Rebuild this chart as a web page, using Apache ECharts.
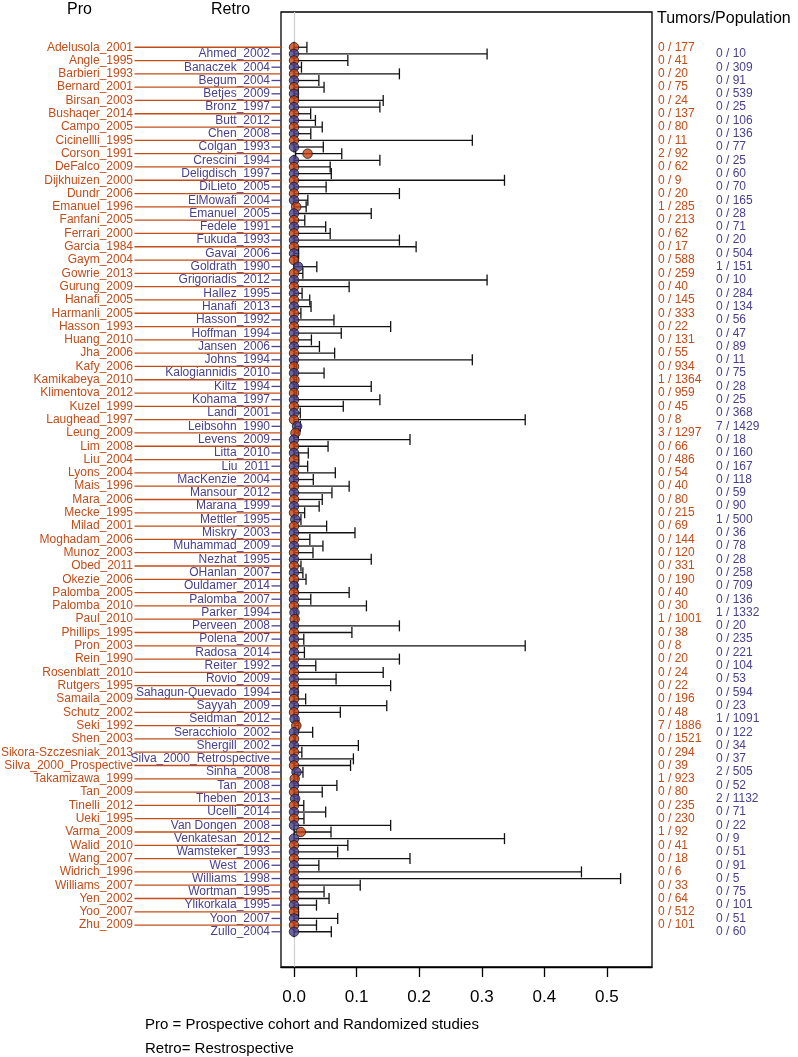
<!DOCTYPE html>
<html><head><meta charset="utf-8">
<script src="https://cdn.jsdelivr.net/npm/echarts@6/dist/echarts.min.js"></script>
<style>html,body{margin:0;padding:0;background:#fff}#c{width:798px;height:1057px}</style>
</head><body><div id="c"></div>
<script>
// ---------- data ----------
const proStudies = ['Adelusola_2001','Angle_1995','Barbieri_1993','Bernard_2001','Birsan_2003','Bushaqer_2014','Campo_2005','Cicinellli_1995','Corson_1991','DeFalco_2009',
'Dijkhuizen_2000','Dundr_2006','Emanuel_1996','Fanfani_2005','Ferrari_2000','Garcia_1984','Gaym_2004','Gowrie_2013','Gurung_2009','Hanafi_2005',
'Harmanli_2005','Hasson_1993','Huang_2010','Jha_2006','Kafy_2006','Kamikabeya_2010','Klimentova_2012','Kuzel_1999','Laughead_1997','Leung_2009',
'Lim_2008','Liu_2004','Lyons_2004','Mais_1996','Mara_2006','Mecke_1995','Milad_2001','Moghadam_2006','Munoz_2003','Obed_2011',
'Okezie_2006','Palomba_2005','Palomba_2010','Paul_2010','Phillips_1995','Pron_2003','Rein_1990','Rosenblatt_2010','Rutgers_1995','Samaila_2009',
'Schutz_2002','Seki_1992','Shen_2003','Sikora-Szczesniak_2013','Silva_2000_Prospective','Takamizawa_1999','Tan_2009','Tinelli_2012','Ueki_1995','Varma_2009',
'Walid_2010','Wang_2007','Widrich_1996','Williams_2007','Yen_2002','Yoo_2007','Zhu_2009'];
const proEvents = [0,0,0,0,0,0,0,0,2,0, 0,0,1,0,0,0,0,0,0,0, 0,0,0,0,0,1,0,0,0,3, 0,0,0,0,0,0,0,0,0,0, 0,0,0,1,0,0,0,0,0,0, 0,7,0,0,0,1,0,0,0,1, 0,0,0,0,0,0,0];
const proTotals = [177,41,20,75,24,137,80,11,92,62, 9,20,285,213,62,17,588,259,40,145, 333,22,131,55,934,1364,959,45,8,1297, 66,486,54,40,80,215,69,144,120,331, 190,40,30,1001,38,8,20,24,22,196, 48,1886,1521,294,39,923,80,235,230,92, 41,18,6,33,64,512,101];
const proEstimate = [0,0,0,0,0,0,0,0,0.0217,0, 0,0,0.0035,0,0,0,0,0,0,0, 0,0,0,0,0,0.0007,0,0,0,0.0023, 0,0,0,0,0,0,0,0,0,0, 0,0,0,0.0010,0,0,0,0,0,0, 0,0.0037,0,0,0,0.0011,0,0,0,0.0109, 0,0,0,0,0,0,0];
const proLower = [0,0,0,0,0,0,0,0,0.0026,0, 0,0,0.0001,0,0,0,0,0,0,0, 0,0,0,0,0,0.00002,0,0,0,0.0005, 0,0,0,0,0,0,0,0,0,0, 0,0,0,0.00003,0,0,0,0,0,0, 0,0.0015,0,0,0,0.00003,0,0,0,0.0003, 0,0,0,0,0,0,0];
const proUpper = [0.0206,0.0860,0.1684,0.0480,0.1425,0.0266,0.0451,0.2849,0.0763,0.0578,
0.3363,0.1684,0.0194,0.0172,0.0578,0.1951,0.0063,0.0141,0.0881,0.0251,
0.0110,0.1544,0.0278,0.0649,0.0039,0.0041,0.0038,0.0787,0.3694,0.0068,
0.0544,0.0076,0.0660,0.0881,0.0451,0.0170,0.0521,0.0253,0.0303,0.0111,
0.0192,0.0881,0.1157,0.0056,0.0925,0.3694,0.1684,0.1425,0.1544,0.0186,
0.0740,0.0076,0.0024,0.0125,0.0903,0.0060,0.0451,0.0156,0.0159,0.0591,
0.0860,0.1853,0.4593,0.1058,0.0560,0.0072,0.0359];

const retroStudies = ['Ahmed_2002','Banaczek_2004','Begum_2004','Betjes_2009','Bronz_1997','Butt_2012','Chen_2008','Colgan_1993','Crescini_1994','Deligdisch_1997',
'DiLieto_2005','ElMowafi_2004','Emanuel_2005','Fedele_1991','Fukuda_1993','Gavai_2006','Goldrath_1990','Grigoriadis_2012','Hallez_1995','Hanafi_2013',
'Hasson_1992','Hoffman_1994','Jansen_2006','Johns_1994','Kalogiannidis_2010','Kiltz_1994','Kohama_1997','Landi_2001','Leibsohn_1990','Levens_2009',
'Litta_2010','Liu_2011','MacKenzie_2004','Mansour_2012','Marana_1999','Mettler_1995','Miskry_2003','Muhammad_2009','Nezhat_1995','OHanlan_2007',
'Ouldamer_2014','Palomba_2007','Parker_1994','Perveen_2008','Polena_2007','Radosa_2014','Reiter_1992','Rovio_2009','Sahagun-Quevado_1994','Sayyah_2009',
'Seidman_2012','Seracchiolo_2002','Shergill_2002','Silva_2000_Retrospective','Sinha_2008','Tan_2008','Theben_2013','Ucelli_2014','Van Dongen_2008','Venkatesan_2012',
'Wamsteker_1993','West_2006','Williams_1998','Wortman_1995','Ylikorkala_1995','Yoon_2007','Zullo_2004'];
const retroEvents = [0,0,0,0,0,0,0,0,0,0, 0,0,0,0,0,0,1,0,0,0, 0,0,0,0,0,0,0,0,7,0, 0,0,0,0,0,1,0,0,0,0, 0,0,1,0,0,0,0,0,0,0, 1,0,0,0,2,0,2,0,0,0, 0,0,0,0,0,0,0];
const retroTotals = [10,309,91,539,25,106,136,77,25,60, 70,165,28,71,20,504,151,10,284,134, 56,47,89,11,75,28,25,368,1429,18, 160,167,118,59,90,500,36,78,28,258, 709,136,1332,20,235,221,104,53,594,23, 1091,122,34,37,505,52,1132,71,22,9, 51,91,5,75,101,51,60];
const retroEstimate = [0,0,0,0,0,0,0,0,0,0, 0,0,0,0,0,0,0.0066,0,0,0, 0,0,0,0,0,0,0,0,0.0049,0, 0,0,0,0,0,0.0020,0,0,0,0, 0,0,0.00075,0,0,0,0,0,0,0, 0.00092,0,0,0,0.0040,0,0.0018,0,0,0, 0,0,0,0,0,0,0];
const retroLower = [0,0,0,0,0,0,0,0,0,0, 0,0,0,0,0,0,0.0002,0,0,0, 0,0,0,0,0,0,0,0,0.0020,0, 0,0,0,0,0,0.00005,0,0,0,0, 0,0,0.00002,0,0,0,0,0,0,0, 0.00002,0,0,0,0.0005,0,0.0002,0,0,0, 0,0,0,0,0,0,0];
const retroUpper = [0.3085,0.0119,0.0397,0.0068,0.1372,0.0342,0.0268,0.0468,0.1372,0.0596,
0.0513,0.0221,0.1234,0.0506,0.1684,0.0073,0.0364,0.3085,0.0129,0.0272,
0.0638,0.0755,0.0406,0.2849,0.0480,0.1234,0.1372,0.0100,0.0101,0.1853,
0.0228,0.0218,0.0308,0.0606,0.0402,0.0111,0.0974,0.0462,0.1234,0.0142,
0.0052,0.0268,0.0042,0.1684,0.0156,0.0166,0.0348,0.0672,0.0062,0.1482,
0.0051,0.0298,0.1028,0.0949,0.0143,0.0685,0.0064,0.0506,0.1544,0.3363,
0.0698,0.0397,0.5218,0.0480,0.0359,0.0698,0.0596];

const xTicks = [0, 0.1, 0.2, 0.3, 0.4, 0.5];
const xTickLabels = ['0.0','0.1','0.2','0.3','0.4','0.5'];
const groupHeaders = ['Pro', 'Retro'];
const countHeader = 'Tumors/Population';
const footnotes = ['Pro = Prospective cohort and Randomized studies', 'Retro= Restrospective'];

// ---------- styling ----------
const FONT = '"Liberation Sans", Arial, Helvetica, sans-serif';
const textColors = ['#c44c18', '#4a418e'];
const dotColors = ['#c8400e', '#483d8b'];

// interleave rows: Pro k -> row 2k, Retro k -> row 2k+1
const groups = [
  {names: proStudies, ev: proEvents, tot: proTotals, est: proEstimate, lo: proLower, up: proUpper},
  {names: retroStudies, ev: retroEvents, tot: retroTotals, est: retroEstimate, lo: retroLower, up: retroUpper}
];
const rows = [];
for (let k = 0; k < proStudies.length; k++) {
  for (let g = 0; g < 2; g++) {
    const G = groups[g];
    if (k < G.names.length) rows.push([G.est[k], 2 * k + g, G.lo[k], G.up[k], g, k]);
  }
}

const chart = echarts.init(document.getElementById('c'), null, {renderer: 'canvas'});
chart.setOption({
  animation: false,
  backgroundColor: '#fff',
  grid: {left: 281, right: 146, top: 12, bottom: 90, show: true, borderColor: '#000', borderWidth: 1.3, backgroundColor: 'transparent'},
  xAxis: {
    type: 'value', min: -0.0208, max: 0.572,
    axisLine: {show: true, onZero: false, lineStyle: {color: '#000', width: 1.3}},
    axisTick: {show: true, customValues: xTicks, length: 10, lineStyle: {color: '#000', width: 1.3}},
    axisLabel: {customValues: xTicks, fontSize: 17, color: '#000', margin: 22, fontFamily: FONT,
      formatter: v => { const i = xTicks.indexOf(v); return i >= 0 ? xTickLabels[i] : ''; }},
    splitLine: {show: false}
  },
  yAxis: {type: 'value', min: -5.3, max: 138.3, inverse: true, show: false},
  graphic: [
    {type: 'text', left: 67, top: 2, style: {text: groupHeaders[0], font: '16px ' + FONT, fill: '#000'}},
    {type: 'text', left: 211, top: 2, style: {text: groupHeaders[1], font: '16px ' + FONT, fill: '#000'}},
    {type: 'text', left: 657, top: 11, style: {text: countHeader, font: '16px ' + FONT, fill: '#000'}},
    {type: 'text', left: 145, top: 1017, style: {text: footnotes[0], font: '15px ' + FONT, fill: '#000'}},
    {type: 'text', left: 145, top: 1041, style: {text: footnotes[1], font: '15px ' + FONT, fill: '#000'}}
  ],
  series: [
    {
      type: 'custom', name: 'labels', clip: false, z: 1, silent: true,
      data: rows,
      renderItem: function (params, api) {
        const r = api.value(1), g = api.value(4), k = api.value(5);
        const y = api.coord([0, r])[1];
        const cs = params.coordSys;
        const gx = cs.x, gr = cs.x + cs.width;
        const G = groups[g];
        const labelRight = g === 0 ? gx - 148 : gx - 11;
        const countX = g === 0 ? gr + 6 : gr + 64;
        return {type: 'group', children: [
          {type: 'line', shape: {x1: labelRight + 1.5, y1: y, x2: gx, y2: y}, style: {stroke: textColors[g], lineWidth: 1.3}},
          {type: 'text', x: labelRight, y: y, style: {text: G.names[k], fill: textColors[g], font: '12px ' + FONT, align: 'right', verticalAlign: 'middle'}},
          {type: 'text', x: countX, y: y, style: {text: G.ev[k] + ' / ' + G.tot[k], fill: textColors[g], font: '12px ' + FONT, align: 'left', verticalAlign: 'middle'}}
        ]};
      }
    },
    {
      type: 'custom', name: 'ci', z: 2, silent: true,
      data: rows,
      renderItem: function (params, api) {
        const r = api.value(1);
        const p1 = api.coord([api.value(2), r]);
        const p2 = api.coord([api.value(3), r]);
        const h = 5.5;
        const st = {stroke: '#111', lineWidth: 1.3};
        return {type: 'group', children: [
          {type: 'line', shape: {x1: p1[0], y1: p1[1], x2: p2[0], y2: p2[1]}, style: st},
          {type: 'line', shape: {x1: p1[0], y1: p1[1] - h, x2: p1[0], y2: p1[1] + h}, style: st},
          {type: 'line', shape: {x1: p2[0], y1: p2[1] - h, x2: p2[0], y2: p2[1] + h}, style: st}
        ]};
      },
      markLine: {silent: true, symbol: 'none', label: {show: false}, z: 0,
        lineStyle: {color: '#cfcfcf', width: 1.2, type: 'solid'}, data: [{xAxis: 0}]}
    },
    {
      type: 'scatter', name: 'points', z: 3, silent: true,
      symbol: 'circle', symbolSize: 9.5,
      data: rows.map(d => ({value: [d[0], d[1]], itemStyle: {color: dotColors[d[4]], borderColor: '#1a1a1a', borderWidth: 1}}))
    }
  ]
});
</script></body></html>
